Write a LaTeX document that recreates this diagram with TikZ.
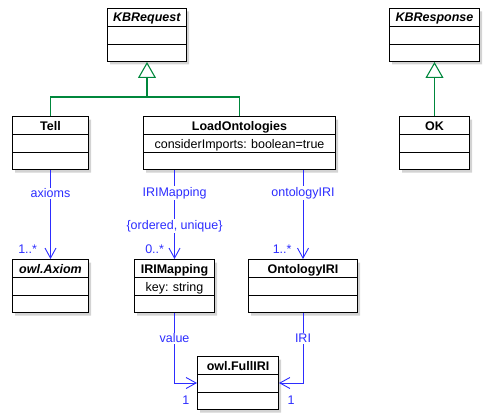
\documentclass[tikz,border=0pt]{standalone}
\usepackage{fontspec}
\setmainfont{Liberation Sans}
\usetikzlibrary{shapes.multipart,arrows.meta,shadows}
\definecolor{gengreen}{RGB}{0,135,60}
\definecolor{assocblue}{RGB}{45,45,255}
\newcommand{\row}[1][17pt]{\rule[-4pt]{0pt}{#1}}
\frenchspacing

\begin{document}
\begin{tikzpicture}[x=1pt,y=-1pt,
  every node/.style={font=\fontsize{12.5}{14}\selectfont},
  cls/.style={draw, line width=1pt, fill=white, rectangle split,
    rectangle split parts=3, inner xsep=0pt, inner ysep=0pt, align=center,
    anchor=north west,
    drop shadow={shadow xshift=2.5pt, shadow yshift=-3pt, opacity=.35}},
  gen/.style={draw=gengreen, line width=1.1pt},
  inh/.style={gen, -{Triangle[open, width=18pt, length=16pt]}},
  assoc/.style={draw=assocblue, line width=0.9pt,
    -{Straight Barb[length=10pt, width=11pt]}},
  lab/.style={text=assocblue, fill=white, inner sep=1pt},
  mult/.style={text=assocblue, inner sep=1pt}]
  \useasboundingbox (0,0) rectangle (490,420);

  % classes
  \node[cls, text width=79pt] (kbrequest) at (107,8)
    {\row\textbf{\textit{KBRequest}} \nodepart{two}\row \nodepart{three}\row[16pt]};
  \node[cls, text width=90pt] (kbresponse) at (389,8)
    {\row\textbf{\textit{KBResponse}} \nodepart{two}\row \nodepart{three}\row[16pt]};
  \node[cls, text width=76pt] (tell) at (12,116)
    {\row\textbf{Tell} \nodepart{two}\row \nodepart{three}\row[16pt]};
  \node[cls, text width=192pt] (loadonto) at (143,116)
    {\row\textbf{LoadOntologies} \nodepart{two}\row considerImports: boolean=true
     \nodepart{three}\row[16pt]};
  \node[cls, text width=70pt] (ok) at (399,116)
    {\row\textbf{OK} \nodepart{two}\row \nodepart{three}\row[16pt]};
  \node[cls, text width=76pt] (axiom) at (12,259)
    {\row\textbf{\textit{owl.Axiom}} \nodepart{two}\row \nodepart{three}\row[16pt]};
  \node[cls, text width=80pt] (irimap) at (134,259)
    {\row\textbf{IRIMapping} \nodepart{two}\row key: string \nodepart{three}\row[16pt]};
  \node[cls, text width=109pt] (ontoiri) at (248,259)
    {\row\textbf{OntologyIRI} \nodepart{two}\row \nodepart{three}\row[16pt]};
  \node[cls, text width=81pt] (fulliri) at (197,356)
    {\row\textbf{owl.FullIRI} \nodepart{two}\row \nodepart{three}\row[16pt]};

  % generalisations
  \coordinate (reqjoin) at (147,97);
  \draw[gen] (tell.north) |- (reqjoin) -| (loadonto.north);
  \draw[inh] (reqjoin) -- (kbrequest.south);
  \draw[inh] (ok.north) -- (kbresponse.south);

  % associations
  \draw[assoc] (tell.south) -- node[lab, pos=.26] {axioms}
    node[mult, pos=.89, anchor=east, xshift=-12pt] {1..*} (axiom.north);
  \draw[assoc] (irimap.north |- loadonto.south) -- node[lab, pos=.26] {IRIMapping}
    node[lab, pos=.63] {\{ordered, unique\}}
    node[mult, pos=.89, anchor=east, xshift=-9pt] {0..*} (irimap.north);
  \draw[assoc] (ontoiri.north |- loadonto.south) -- node[lab, pos=.26] {ontologyIRI}
    node[mult, pos=.89, anchor=east, xshift=-10pt] {1..*} (ontoiri.north);
  \draw[assoc] (irimap.south) |- node[lab, pos=.18] {value}
    node[mult, pos=.75, below=11pt] {1} (fulliri.west);
  \draw[assoc] (ontoiri.south) |- node[lab, pos=.18] {IRI}
    node[mult, pos=.75, below=11pt] {1} (fulliri.east);
\end{tikzpicture}
\end{document}
